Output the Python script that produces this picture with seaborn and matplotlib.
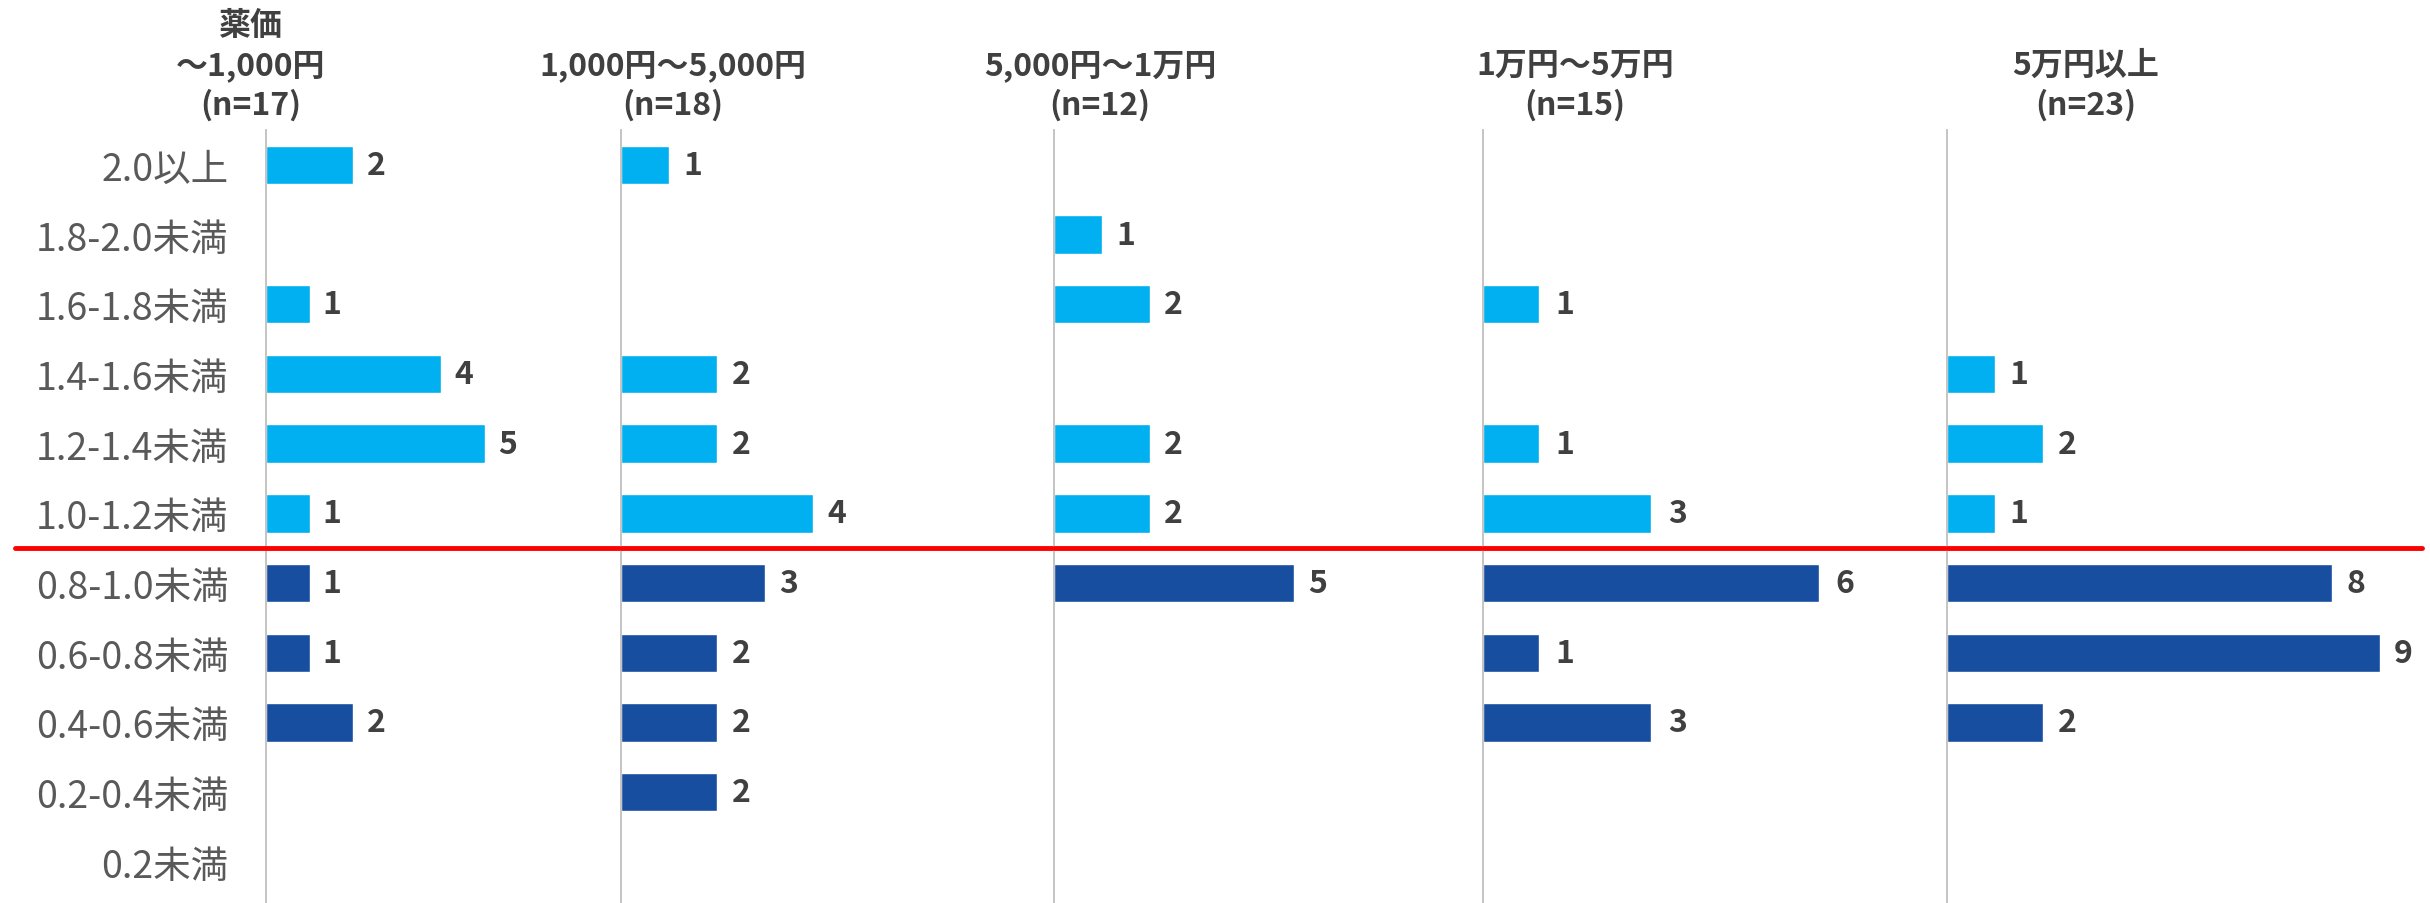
import pandas as pd
import matplotlib.pyplot as plt
import seaborn as sns

# ratio bins, top to bottom
categories = ["2.0以上", "1.8-2.0未満", "1.6-1.8未満", "1.4-1.6未満", "1.2-1.4未満", "1.0-1.2未満",
              "0.8-1.0未満", "0.6-0.8未満", "0.4-0.6未満", "0.2-0.4未満", "0.2未満"]
groups = ["1.0以上"] * 6 + ["1.0未満"] * 5

panel_titles = ["薬価\n～1,000円\n(n=17)", "1,000円～5,000円\n(n=18)", "5,000円～1万円\n(n=12)",
                "1万円～5万円\n(n=15)", "5万円以上\n(n=23)"]
counts_1k = [2, 0, 1, 4, 5, 1, 1, 1, 2, 0, 0]
counts_1k_5k = [1, 0, 0, 2, 2, 4, 3, 2, 2, 2, 0]
counts_5k_10k = [0, 1, 2, 0, 2, 2, 5, 0, 0, 0, 0]
counts_10k_50k = [0, 0, 1, 0, 1, 3, 6, 1, 3, 0, 0]
counts_50k = [0, 0, 0, 1, 2, 1, 8, 9, 2, 0, 0]
all_counts = [counts_1k, counts_1k_5k, counts_5k_10k, counts_10k_50k, counts_50k]

palette = {"1.0以上": "#00B0F0", "1.0未満": "#174EA0"}
text_dark = "#404040"

sns.set_style("white")
plt.rcParams["font.family"] = ["Noto Sans CJK JP", "DejaVu Sans"]

W, H = 2430, 904
fig = plt.figure(figsize=(W / 100, H / 100), dpi=100)

# panel layout in pixels: left edge, right edge, x max
lefts = [266, 621, 1054, 1483, 1947]
rights = [621, 1054, 1483, 1947, 2422]
xmaxs = [8.12, 9.02, 8.94, 8.29, 9.88]
title_x = [251, 673, 1100, 1575, 2086]
ax_top, ax_bottom = 131, 904

for i, counts in enumerate(all_counts):
    ax = fig.add_axes([lefts[i] / W, 1 - ax_bottom / H,
                       (rights[i] - lefts[i]) / W, (ax_bottom - ax_top) / H])
    df = pd.DataFrame({"bin": categories, "count": counts, "group": groups})
    sns.barplot(data=df, x="count", y="bin", hue="group", palette=palette, saturation=1,
                dodge=False, width=0.55, orient="h", legend=False, ax=ax)
    for j, v in enumerate(counts):
        if v > 0:
            ax.text(v + 0.3, j, str(v), va="center", ha="left", fontsize=23,
                    fontweight="bold", color=text_dark)
    ax.set_xlim(0, xmaxs[i])
    ax.set_ylim(10.59, -0.5)
    ax.set_xlabel("")
    ax.set_ylabel("")
    ax.set_xticks([])
    for s in ["top", "right", "bottom"]:
        ax.spines[s].set_visible(False)
    ax.spines["left"].set_color("#BFBFBF")
    ax.spines["left"].set_linewidth(1.3)
    ax.tick_params(axis="y", length=0, pad=27)
    if i == 0:
        ax.set_yticks(range(len(categories)))
        ax.set_yticklabels(categories, fontsize=27, color="#595959")
        xmin = (15 - lefts[0]) / (rights[0] - lefts[0])
        ax.axhline(5.5, xmin=xmin, xmax=1, color="#FF0000", lw=3.5, clip_on=False, zorder=5)
    else:
        ax.set_yticks([])
        ax.axhline(5.5, color="#FF0000", lw=3.5, clip_on=False, zorder=5)
    fig.text(title_x[i] / W, 1 - 122 / H, panel_titles[i], ha="center", va="bottom",
             fontsize=23, fontweight="bold", color=text_dark, linespacing=1.3)

fig.savefig("out.png", dpi=100)
